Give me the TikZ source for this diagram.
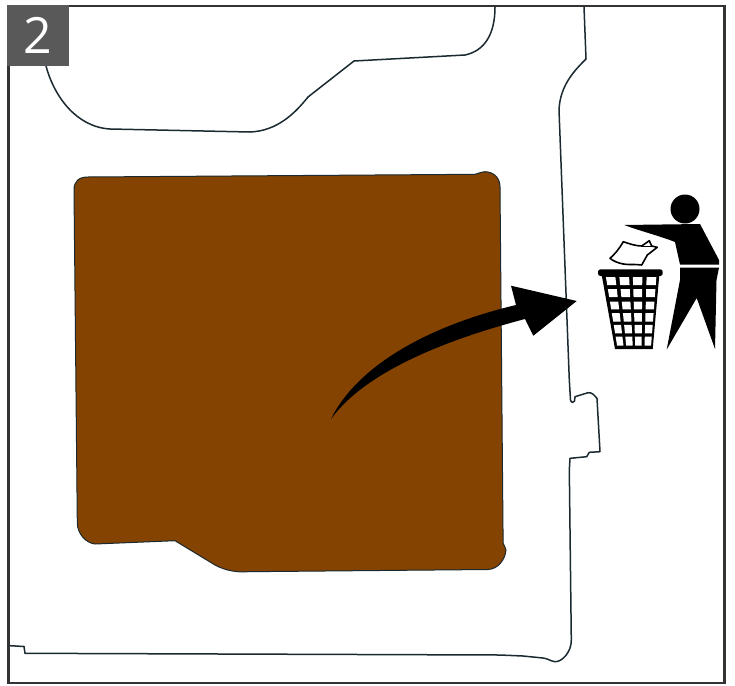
\documentclass[tikz,border=0pt]{standalone}
\usepackage{fontspec}
\setmainfont{Open Sans}
\definecolor{brownfill}{HTML}{844300}
\definecolor{wallc}{HTML}{1B2A30}
\definecolor{framec}{HTML}{333333}
\definecolor{badge}{HTML}{595959}
\tikzset{wall/.style={draw=wallc,line width=1.5pt,line join=round,line cap=round},
 ink/.style={fill=black,draw=none}}
\begin{document}
\begin{tikzpicture}[x=1pt,y=-1pt]
\useasboundingbox (0,0) rectangle (735,685);
\fill[white] (0,0) rectangle (735,685);
% frame
\draw[framec,line width=2.2pt] (8.5,6) rectangle (724.5,683);
% top blob outline
\draw[wall] (46,66) .. controls (54,96) and (76,127) .. (110,129) -- (250,132)
  .. controls (278,131) and (296,112) .. (308,97) -- (354,61) -- (465,55)
  .. controls (484,51) and (495,35) .. (495,7);
% wall
\draw[wall] (584,7) -- (586,59) .. controls (575,70) and (560,85) .. (559,110)
  -- (569.3,380) -- (570.5,400) .. controls (571,403) and (574,403) .. (574.5,401)
  -- (575,396.7) -- (588,392.7) .. controls (592,392) and (595,396) .. (597,398.5)
  -- (600,451.7) -- (589.3,452.3) -- (586.7,456.7) -- (570,458.3) -- (569.3,470)
  -- (571.3,640) .. controls (571.5,652) and (562,662) .. (555,661.7)
  .. controls (550,661) and (548,658.5) .. (543,658) -- (523,656) -- (500,655)
  -- (25,653.3) -- (24,646.5) -- (10,645.7);
% brown area
\fill[brownfill,draw=wallc,line width=1pt,line join=round]
  (88,177) -- (475,174.3) .. controls (480,173) and (482,171.5) .. (485,171.7)
  .. controls (494,172) and (500,178) .. (500,187) -- (503,530) -- (503,543)
  .. controls (504,546) and (506,548) .. (506,550)
  .. controls (505,560) and (498,569) .. (488,569.5) -- (248,571.7)
  .. controls (238,572.5) and (226,571) .. (215,565) -- (175,540.7) -- (95,544)
  .. controls (86,543) and (77.5,534) .. (77.3,523) -- (74,190)
  .. controls (74,181) and (79,177) .. (88,177) -- cycle;
% big arrow
\fill[black] (331,419) .. controls (355,370) and (420,328) .. (516,305) -- (511,285.7)
  -- (576.7,301) -- (533.3,335.7) -- (525,319)
  .. controls (445,340) and (365,372) .. (331,419) -- cycle;
% person
\fill[ink] (685,209) circle (14.5);
\fill[ink] (624.3,225) -- (700,224) -- (719,260) -- (719,264.5) -- (680,264.5)
  -- (675,242) .. controls (660,236) and (640,231) .. (624.3,225) -- cycle;
\fill[ink] (680,267.5) -- (719,267.5) -- (716.5,280) -- (715,349) -- (696.7,298)
  -- (666.7,349.5) -- (680,280) -- cycle;
% bin
\fill[ink,rounded corners=2.5pt] (598,269.3) rectangle (662.7,276);
\fill[ink] (601.7,275) -- (659.3,275) -- (652.7,349) -- (615,349) -- cycle;
\foreach \ua/\ub in {.07/.235,.305/.475,.54/.705,.78/.95}{
 \foreach \va/\vb in {.015/.125,.18/.29,.35/.457,.51/.625,.67/.785,.83/.955}{
  \pgfmathsetmacro{\ya}{276+73*\va}
  \pgfmathsetmacro{\yb}{276+73*\vb}
  \pgfmathsetmacro{\lxa}{601.7+13.3*\va}
  \pgfmathsetmacro{\rxa}{659.3-6.6*\va}
  \pgfmathsetmacro{\lxb}{601.7+13.3*\vb}
  \pgfmathsetmacro{\rxb}{659.3-6.6*\vb}
  \fill[white] ({\lxa+\ua*(\rxa-\lxa)},\ya) -- ({\lxa+\ub*(\rxa-\lxa)},\ya)
     -- ({\lxb+\ub*(\rxb-\lxb)},\yb) -- ({\lxb+\ua*(\rxb-\lxb)},\yb) -- cycle;
 }}
% paper
\draw[black,fill=white,line width=1.6pt,line join=round]
  (610,258.3) .. controls (615,254) and (619,249) .. (623.3,241.7)
  .. controls (630,244) and (636,246) .. (641.7,246) -- (649.3,240.7) -- (651.7,246)
  -- (657.3,247.3) -- (647.3,255) -- (641.7,265)
  .. controls (635,264) and (628,265) .. (623.3,264) .. controls (618,263) and (613,261) .. (610,258.3) -- cycle;
\draw[black,line width=1pt] (641.7,246) -- (651.7,246);
% badge
\fill[badge] (7,5) rectangle (69,66);
\node[text=white,inner sep=0pt,font=\fontsize{50}{50}\selectfont] (num) at (38,35) {2};
\end{tikzpicture}
\end{document}
